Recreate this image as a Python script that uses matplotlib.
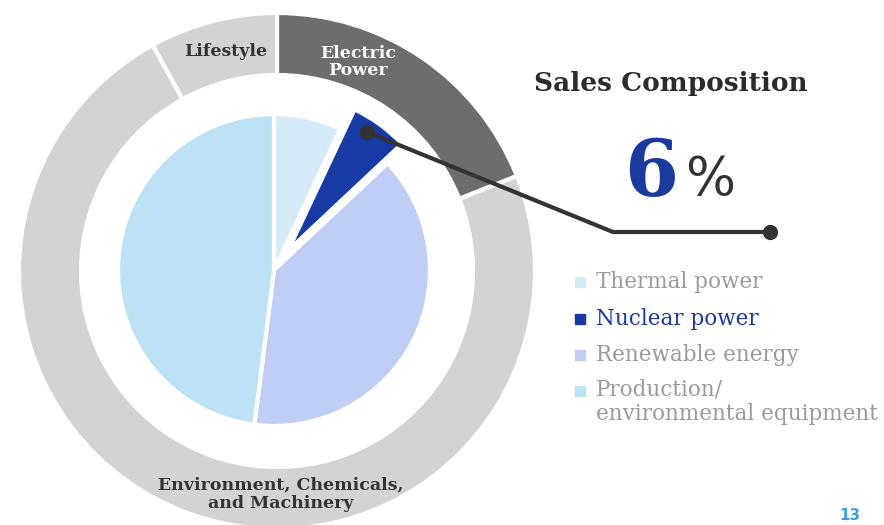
import matplotlib.pyplot as plt

# outer ring: business segments
seg_labels = ["Electric\nPower", "Environment, Chemicals,\nand Machinery", "Lifestyle"]
seg_values = [19, 73, 8]
seg_colors = ["#6d6d6d", "#d3d3d3", "#d3d3d3"]

# inner pie: electric power breakdown
sub_labels = ["Thermal power", "Nuclear power", "Renewable energy",
              "Production/\nenvironmental equipment"]
sub_values = [7, 6, 39, 48]
sub_colors = ["#d5ebf8", "#173aa5", "#c0cef5", "#bee2f5"]
sub_explode = [0, 24, 0, 0]

highlight_pct = "6"
H = 525

fig = plt.figure(figsize=(8.84, 5.25), dpi=100)
ax = fig.add_axes([0, 0, 1, 1])

ax.pie(seg_values, colors=seg_colors, startangle=90, counterclock=False,
       radius=258, center=(277, H - 271),
       wedgeprops=dict(width=62, edgecolor="white", linewidth=3))

ax.pie(sub_values, colors=sub_colors, startangle=90, counterclock=False,
       radius=156, center=(274, H - 270), explode=sub_explode,
       wedgeprops=dict(edgecolor="white", linewidth=3))

ax.set_xlim(0, 884)
ax.set_ylim(0, H)
ax.set_aspect("equal")
ax.axis("off")

serif = ["DejaVu Serif"]
ax.text(358, H - 62, seg_labels[0], color="white", fontsize=12.5, fontweight="bold",
        ha="center", va="center", family=serif, linespacing=0.95)
ax.text(226, H - 51, seg_labels[2], color="#333333", fontsize=12.5, fontweight="bold",
        ha="center", va="center", family=serif)
ax.text(281, H - 494, seg_labels[1], color="#333333", fontsize=12.5, fontweight="bold",
        ha="center", va="center", family=serif, linespacing=1.1)

# title and highlight number
ax.text(671, H - 84, "Sales Composition", color="#2b2b2b", fontsize=19, fontweight="bold",
        ha="center", va="center", family=serif)
ax.text(651, H - 174, highlight_pct, color="#1a3a9e", fontsize=56, fontweight="bold",
        ha="center", va="center", family=serif)
ax.text(710, H - 180, "%", color="#333333", fontsize=38,
        ha="center", va="center", family=["DejaVu Sans"])

# leader line
ax.plot([367, 613, 770], [H - 132, H - 232, H - 232], color="#333333", lw=3,
        solid_capstyle="round")
ax.plot([367, 770], [H - 132, H - 232], "o", color="#333333", ms=10)

# legend
ys = [282, 319, 355, 391]
for lab, col, y in zip(sub_labels, sub_colors, ys):
    txt_col = "#1a3a9e" if lab == "Nuclear power" else "#9a9a9a"
    ax.plot(580, H - y, "s", color=col, ms=6.5)
    if "\n" in lab:
        ax.text(596, H - y + 13, lab, color=txt_col, fontsize=15.5, ha="left", va="top",
                family=serif, linespacing=1.2)
    else:
        ax.text(596, H - y, lab, color=txt_col, fontsize=15.5, ha="left", va="center",
                family=serif)

ax.text(850, H - 523, "13", color="#3aa0dc", fontsize=11, fontweight="bold",
        ha="center", va="bottom")

fig.savefig("out.png", dpi=100)
